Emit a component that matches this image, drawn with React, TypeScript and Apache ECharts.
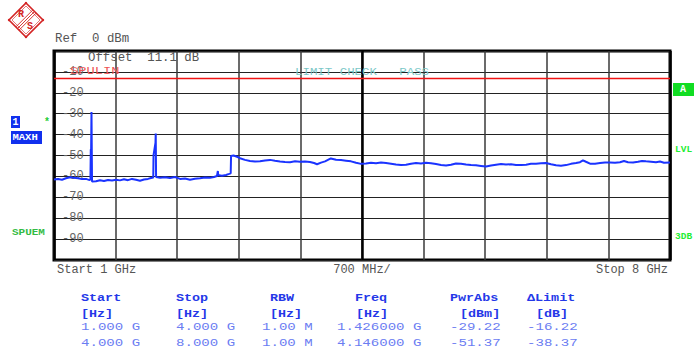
import React, { useEffect, useRef } from "react";
import * as echarts from "echarts";

// ---- data ----
const FREQ_START_GHZ = 1;
const FREQ_STOP_GHZ = 8;
const X_DIVISIONS = 10;
const REF_LEVEL_DBM = 0;
const BOTTOM_LEVEL_DBM = -100;
const LEVEL_STEP_DB = 10;
const LIMIT_DBM = -13;

const TRACE_FREQ_GHZ = [
  1.0, 1.045, 1.091, 1.136, 1.182, 1.227, 1.273, 1.318, 1.364, 1.405, 1.414, 1.418, 1.422, 1.426, 1.432,
  1.477, 1.523, 1.568, 1.614, 1.659, 1.705, 1.75, 1.795, 1.841, 1.886, 1.932, 1.977, 2.023, 2.068, 2.102,
  2.128, 2.131, 2.153, 2.156, 2.16, 2.205, 2.261, 2.318, 2.375, 2.432, 2.489, 2.545, 2.602, 2.659, 2.716,
  2.773, 2.818, 2.852, 2.862, 2.866, 2.875, 2.909, 2.955, 2.99, 3.008, 3.012, 3.04, 3.08, 3.114, 3.17,
  3.227, 3.284, 3.341, 3.398, 3.455, 3.511, 3.568, 3.625, 3.682, 3.739, 3.795, 3.852, 3.909, 3.955, 3.989,
  4.034, 4.08, 4.146, 4.205, 4.261, 4.318, 4.375, 4.432, 4.489, 4.545, 4.602, 4.659, 4.716, 4.773, 4.83,
  4.886, 4.943, 5.0, 5.057, 5.114, 5.17, 5.227, 5.284, 5.341, 5.398, 5.455, 5.511, 5.568, 5.625, 5.682,
  5.739, 5.795, 5.852, 5.909, 5.966, 6.023, 6.08, 6.136, 6.193, 6.25, 6.307, 6.364, 6.42, 6.477, 6.534,
  6.591, 6.648, 6.705, 6.761, 6.818, 6.875, 6.932, 6.977, 7.011, 7.045, 7.091, 7.148, 7.205, 7.261, 7.318,
  7.375, 7.432, 7.477, 7.523, 7.58, 7.636, 7.682, 7.727, 7.784, 7.841, 7.886, 7.932, 8.0,
];
const TRACE_LEVEL_DBM = [
  -61.5, -61.2, -61.6, -60.9, -60.4, -60.7, -60.9, -61.3, -61.2, -61.8, -61.4, -47.2, -46.9, -29.2, -62.4,
  -62.3, -61.8, -62.2, -61.7, -62.0, -61.6, -61.9, -61.4, -61.8, -61.2, -61.6, -62.1, -61.5, -61.2, -60.8,
  -60.5, -49.8, -44.0, -39.5, -60.3, -60.6, -60.4, -60.8, -60.3, -61.2, -61.0, -61.6, -61.1, -60.9, -60.5,
  -60.7, -60.3, -59.8, -57.4, -59.4, -59.5, -59.7, -59.3, -58.8, -58.5, -50.2, -50.0, -50.6, -51.3, -52.1,
  -52.6, -52.9, -52.8, -52.4, -52.1, -52.5, -52.9, -53.1, -53.2, -52.8, -53.0, -52.9, -53.1, -53.6, -54.2,
  -53.4, -52.8, -51.4, -52.0, -52.2, -52.5, -52.8, -53.5, -54.0, -53.8, -53.5, -53.7, -53.4, -53.6, -53.9,
  -54.3, -54.6, -54.4, -53.9, -53.6, -53.8, -53.5, -53.7, -54.1, -54.5, -54.8, -54.4, -53.8, -53.9, -54.3,
  -54.6, -54.7, -55.0, -55.3, -54.8, -54.4, -54.1, -54.3, -54.2, -54.5, -54.6, -54.4, -54.0, -53.9, -53.7,
  -53.6, -54.2, -54.7, -54.9, -54.6, -54.0, -53.6, -53.2, -52.3, -53.0, -53.9, -53.9, -53.6, -53.4, -53.3,
  -53.5, -53.2, -52.6, -53.2, -53.3, -53.0, -52.6, -52.8, -53.0, -53.2, -52.9, -53.5, -53.3,
];

const TABLE_HEADERS = ["Start", "Stop", "RBW", "Freq", "PwrAbs", "\u0394Limit"];
const TABLE_UNITS = ["[Hz]", "[Hz]", "[Hz]", "[Hz]", "[dBm]", "[dB]"];
const COL_START = ["1.000 G", "4.000 G"];
const COL_STOP = ["4.000 G", "8.000 G"];
const COL_RBW = ["1.00 M", "1.00 M"];
const COL_FREQ = ["1.426000 G", "4.146000 G"];
const COL_PWR = ["-29.22", "-51.37"];
const COL_DLIMIT = ["-16.22", "-38.37"];

const START_LABEL = "Start 1 GHz";
const SPAN_LABEL = "700 MHz/";
const STOP_LABEL = "Stop 8 GHz";
const REF_LABEL = "Ref  0 dBm";
const OFFSET_LABEL = "Offset  11.1 dB";

// ---- layout ----
const W = 694;
const H = 354;
const G_LEFT = 54;
const G_TOP = 51;
const G_RIGHT = 670;
const G_BOTTOM = 260;
const MONO = "'Liberation Mono', 'DejaVu Sans Mono', monospace";

function txt(x: number, y: number, text: string, opts: any = {}) {
  const { scaleX = 1, fill = "#555", size = 12, weight = "normal", align = "left" } = opts;
  return {
    type: "text",
    x,
    y,
    scaleX,
    z: 50,
    silent: true,
    style: {
      text,
      fill,
      fontSize: size,
      fontFamily: MONO,
      fontWeight: weight,
      align,
      verticalAlign: "middle",
    },
  };
}

export default function App() {
  const ref = useRef<HTMLDivElement>(null);

  useEffect(() => {
    if (!ref.current) return;
    const chart = echarts.init(ref.current, undefined, { renderer: "svg" });

    const data = TRACE_FREQ_GHZ.map((f, i) => [f, TRACE_LEVEL_DBM[i]]);

    const colX = [81, 176, 270, 355, 450, 527];
    const unitX = [81, 176, 270, 356, 460, 536];
    const dataX = [81, 176, 262, 337, 450, 527];
    const rows = [COL_START, COL_STOP, COL_RBW, COL_FREQ, COL_PWR, COL_DLIMIT];
    const headColor = "#2438e8";
    const dataColor = "#6b7df2";

    const graphics: any[] = [];
    TABLE_HEADERS.forEach((h, i) =>
      graphics.push(txt(colX[i], 298, h, { fill: headColor, size: 11, weight: "bold", scaleX: 1.22 }))
    );
    TABLE_UNITS.forEach((u, i) =>
      graphics.push(txt(unitX[i], 314, u, { fill: headColor, size: 11, weight: "bold", scaleX: 1.22 }))
    );
    rows.forEach((col, i) =>
      col.forEach((v, r) =>
        graphics.push(txt(dataX[i], r === 0 ? 327 : 343, v, { fill: dataColor, size: 11, scaleX: 1.28 }))
      )
    );

    // header / footer texts
    graphics.push(txt(55, 39, REF_LABEL, { size: 12, scaleX: 1.03 }));
    graphics.push(txt(88, 58, OFFSET_LABEL, { size: 12, scaleX: 1.03 }));
    graphics.push(txt(57, 270, START_LABEL, { size: 12 }));
    graphics.push(txt(362, 270, SPAN_LABEL, { size: 12, align: "center" }));
    graphics.push(txt(668, 270, STOP_LABEL, { size: 12, align: "right" }));
    graphics.push(txt(70, 71, "SPULIN", { fill: "#ee5555", size: 11, scaleX: 1.25 }));
    graphics.push(txt(295, 72, "LIMIT CHECK   PASS", { fill: "#7cc8c8", size: 11, scaleX: 1.13 }));

    // right side annotations
    graphics.push({ type: "rect", z: 40, shape: { x: 673, y: 83, width: 21, height: 13 }, style: { fill: "#11dd22" } });
    graphics.push(txt(680, 89.5, "A", { fill: "#ffffff", size: 10, weight: "bold" }));
    graphics.push(txt(675, 149, "LVL", { fill: "#22ee33", size: 9.5, weight: "bold" }));
    graphics.push(txt(675, 236, "3DB", { fill: "#22ee33", size: 9.5, weight: "bold" }));

    // left side annotations
    graphics.push({ type: "rect", z: 40, shape: { x: 11, y: 116, width: 9, height: 12 }, style: { fill: "#1130ee" } });
    graphics.push(txt(12.5, 122, "1", { fill: "#ffffff", size: 10, weight: "bold" }));
    graphics.push(txt(44, 122, "*", { fill: "#22cc33", size: 10, weight: "bold" }));
    graphics.push({ type: "rect", z: 40, shape: { x: 11, y: 131, width: 31, height: 13 }, style: { fill: "#1130ee" } });
    graphics.push(txt(12.5, 137.5, "MAXH", { fill: "#ffffff", size: 9, weight: "bold", scaleX: 1.17 }));
    graphics.push(txt(12, 233, "SPUEM", { fill: "#33bb44", size: 9, weight: "bold", scaleX: 1.22 }));

    // logo
    const red = "#d42424";
    const cx = 26;
    const cy = 20;
    const hs = 17;
    graphics.push({
      type: "polygon",
      z: 40,
      shape: { points: [[cx, cy - hs], [cx + hs, cy], [cx, cy + hs], [cx - hs, cy]] },
      style: { fill: "#fff", stroke: red, lineWidth: 1.6 },
    });
    graphics.push({
      type: "polygon",
      z: 40,
      shape: { points: [[cx, cy - hs + 3], [cx + hs - 3, cy], [cx, cy + hs - 3], [cx - hs + 3, cy]] },
      style: { fill: "none", stroke: red, lineWidth: 0.6 },
    });
    [-1.6, 0, 1.6].forEach((o) =>
      graphics.push({
        type: "line",
        z: 41,
        shape: { x1: 34.5 + o, y1: 11.5 + o, x2: 17.5 + o, y2: 28.5 + o },
        style: { stroke: red, lineWidth: 0.9 },
      })
    );
    graphics.push(txt(18, 14, "R", { fill: red, size: 10, weight: "bold", scaleX: 1 }));
    graphics.push(txt(27, 26, "S", { fill: red, size: 10, weight: "bold", scaleX: 1 }));
    [[cx, cy - hs], [cx + hs, cy], [cx, cy + hs], [cx - hs, cy]].forEach((p) =>
      graphics.push({ type: "circle", z: 41, shape: { cx: p[0], cy: p[1], r: 1.2 }, style: { fill: red } })
    );

    const option: any = {
      animation: false,
      backgroundColor: "#ffffff",
      grid: {
        left: G_LEFT,
        top: G_TOP,
        width: G_RIGHT - G_LEFT,
        height: G_BOTTOM - G_TOP,
        show: true,
        borderColor: "#000",
        borderWidth: 3,
        backgroundColor: "transparent",
      },
      xAxis: [
        {
          type: "value",
          min: FREQ_START_GHZ,
          max: FREQ_STOP_GHZ,
          show: false,
          splitLine: { show: false },
        },
        {
          type: "value",
          min: 0,
          max: X_DIVISIONS,
          interval: 1,
          axisLine: { show: false },
          axisTick: { show: false },
          axisLabel: { show: false },
          splitLine: { show: true, lineStyle: { color: "#3a3a3a", width: 1.5 } },
        },
        {
          type: "value",
          min: 0,
          max: 2,
          interval: 1,
          axisLine: { show: false },
          axisTick: { show: false },
          axisLabel: { show: false },
          splitLine: { show: true, lineStyle: { color: "#000", width: 2.5 } },
        },
      ],
      yAxis: {
        type: "value",
        min: BOTTOM_LEVEL_DBM,
        max: REF_LEVEL_DBM,
        interval: LEVEL_STEP_DB,
        axisLine: { show: false },
        axisTick: { show: false },
        axisLabel: {
          inside: true,
          margin: 8,
          color: "#666",
          fontFamily: MONO,
          fontSize: 12,
          showMinLabel: false,
          showMaxLabel: false,
        },
        splitLine: { show: true, lineStyle: { color: "#222", width: 1.2 } },
      },
      series: [
        {
          type: "line",
          xAxisIndex: 0,
          data,
          showSymbol: false,
          symbol: "none",
          z: 5,
          lineStyle: { color: "#1a33ff", width: 2 },
          markLine: {
            silent: true,
            symbol: "none",
            label: { show: false },
            lineStyle: { color: "#f01414", width: 1.3, type: "solid" },
            data: [{ yAxis: LIMIT_DBM }],
          },
        },
      ],
      graphic: graphics,
    };

    chart.setOption(option);
    return () => chart.dispose();
  }, []);

  return (
    <div
      ref={ref}
      style={{ position: "fixed", left: 0, top: 0, width: W, height: H, background: "#fff" }}
    />
  );
}
